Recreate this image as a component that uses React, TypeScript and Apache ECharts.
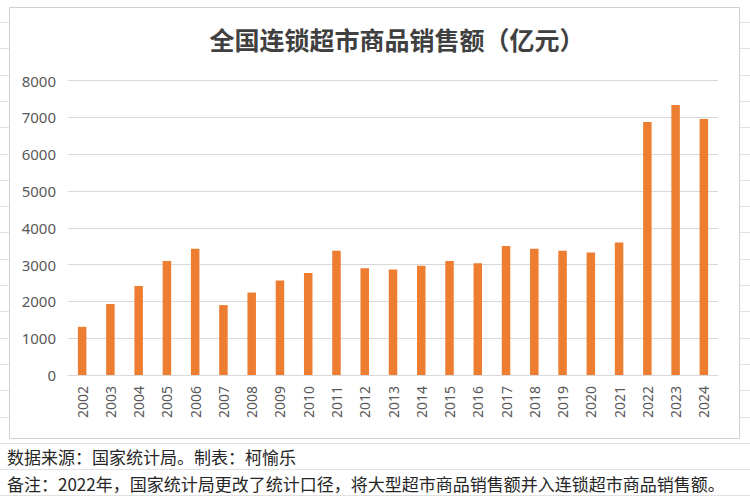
import React, { useEffect, useRef } from 'react';
import * as echarts from 'echarts';

const years = [
    '2002', '2003', '2004', '2005', '2006', '2007', '2008', '2009', '2010', '2011', '2012',
    '2013', '2014', '2015', '2016', '2017', '2018', '2019', '2020', '2021', '2022', '2023', '2024'
];

const sales = [
    1310, 1930, 2420, 3100, 3430, 1900, 2240, 2570, 2770, 3380, 2900,
    2870, 2970, 3100, 3040, 3505, 3430, 3380, 3330, 3605, 6875, 7337, 6957
];

const titleText = '全国连锁超市商品销售额（亿元）';
const sourceNote = '数据来源：国家统计局。制表：柯愉乐';
const remarkNote = '备注：2022年，国家统计局更改了统计口径，将大型超市商品销售额并入连锁超市商品销售额。';

const W = 750;
const H = 503;

const App: React.FC = () => {
    const chartRef = useRef<HTMLDivElement>(null);

    useEffect(() => {
        if (!chartRef.current) return;
        const myChart = echarts.init(chartRef.current, null, { renderer: 'svg' });

        // spreadsheet cell lines behind the chart box
        const cellLines: any[] = [];
        for (let k = 0; k < 19; k++) {
            const y = Math.round(22 + 26.3 * k) + 0.5;
            if (y < 438) {
                cellLines.push({ type: 'line', shape: { x1: 0, y1: y, x2: 9, y2: y }, style: { stroke: '#e2e2e2', lineWidth: 1 }, z: -10 });
                cellLines.push({ type: 'line', shape: { x1: 739, y1: y, x2: W, y2: y }, style: { stroke: '#e2e2e2', lineWidth: 1 }, z: -10 });
            } else {
                cellLines.push({ type: 'line', shape: { x1: 0, y1: y, x2: W, y2: y }, style: { stroke: '#e2e2e2', lineWidth: 1 }, z: -10 });
            }
        }

        const option: echarts.EChartsOption = {
            animation: false,
            backgroundColor: '#ffffff',
            textStyle: { fontFamily: '"Noto Sans CJK SC", "Noto Sans", sans-serif' },
            grid: { left: 68, right: 32, top: 80.7, bottom: 128 },
            xAxis: {
                type: 'category',
                data: years,
                axisLine: { lineStyle: { color: '#d9d9d9', width: 1 } },
                axisTick: { show: false },
                axisLabel: {
                    rotate: 90,
                    color: '#595959',
                    fontSize: 14,
                    margin: 11,
                    interval: 0,
                    fontFamily: '"Noto Sans", sans-serif'
                }
            },
            yAxis: {
                type: 'value',
                min: 0,
                max: 8000,
                interval: 1000,
                axisLine: { show: false },
                axisTick: { show: false },
                axisLabel: {
                    color: '#595959',
                    fontSize: 15,
                    margin: 12,
                    fontFamily: '"Noto Sans", sans-serif',
                    formatter: (v: number) => String(v)
                },
                splitLine: { lineStyle: { color: '#d9d9d9', width: 1 } }
            },
            graphic: [
                ...cellLines,
                {
                    type: 'rect',
                    shape: { x: 9.5, y: 7.5, width: 730, height: 431 },
                    style: { fill: 'none', stroke: '#d0d0d0', lineWidth: 1 },
                    z: 5
                },
                {
                    type: 'text',
                    x: 397,
                    y: 39,
                    style: {
                        text: titleText,
                        fill: '#404040',
                        font: 'bold 25px "Noto Sans CJK SC", sans-serif',
                        textAlign: 'center',
                        textVerticalAlign: 'middle'
                    }
                },
                {
                    type: 'text',
                    x: 7,
                    y: 456,
                    style: {
                        text: sourceNote,
                        fill: '#262626',
                        font: '17px "Noto Sans CJK SC", sans-serif',
                        textAlign: 'left',
                        textVerticalAlign: 'middle'
                    }
                },
                {
                    type: 'text',
                    x: 7,
                    y: 483,
                    style: {
                        text: remarkNote,
                        fill: '#262626',
                        font: '17px "Noto Sans CJK SC", sans-serif',
                        textAlign: 'left',
                        textVerticalAlign: 'middle'
                    }
                }
            ],
            series: [
                {
                    name: '销售额',
                    type: 'bar',
                    data: sales,
                    barWidth: 8.5,
                    itemStyle: { color: '#ED7D31' }
                }
            ]
        };

        myChart.setOption(option);
        return () => myChart.dispose();
    }, []);

    return (
        <div
            ref={chartRef}
            style={{ position: 'absolute', left: 0, top: 0, width: W + 'px', height: H + 'px' }}
        />
    );
};

export default App;
